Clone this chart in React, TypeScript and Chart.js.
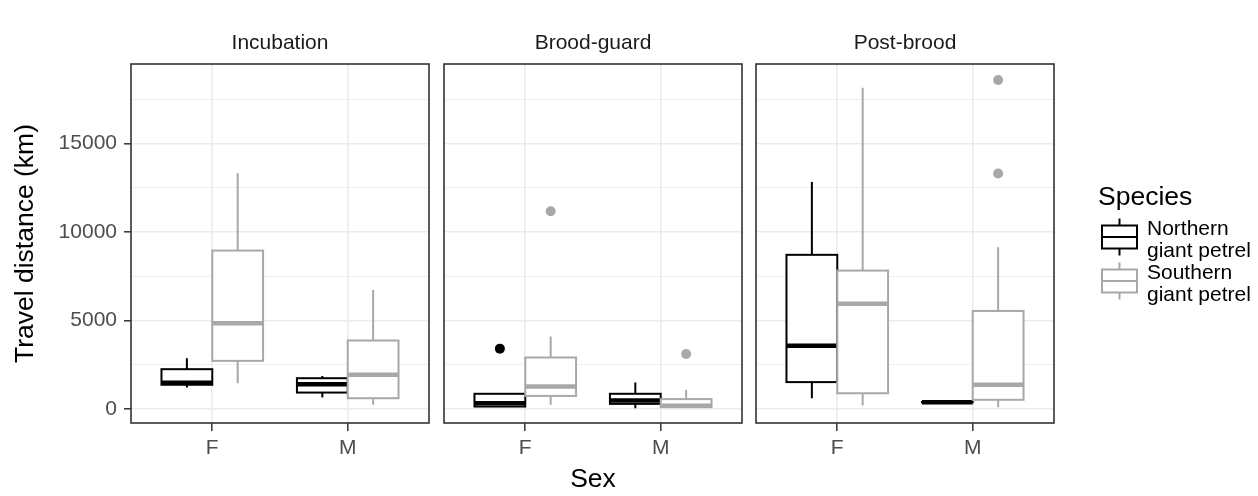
import React, { useEffect, useRef } from 'react';
import { Chart, registerables } from 'chart.js';

Chart.register(...registerables);

const FONT = '"Liberation Sans", Arial, Helvetica, sans-serif';

// ---------- data ----------
const phases = ['Incubation', 'Brood-guard', 'Post-brood'];
const sexes = ['F', 'M'];
const sexPositions = [1, 2];
const speciesLabels = [['Northern', 'giant petrel'], ['Southern', 'giant petrel']];
const speciesColors = ['#000000', '#A8A8A8'];
const yMajorTicks = [0, 5000, 10000, 15000];
const yMinorTicks = [2500, 7500, 12500, 17500];

// [lower whisker, Q1, median, Q3, upper whisker] for F, then M
const northernIncubation = [[1200, 1360, 1480, 2240, 2860], [640, 920, 1390, 1730, 1860]];
const southernIncubation = [[1450, 2710, 4840, 8940, 13310], [230, 600, 1920, 3860, 6720]];
const northernBroodGuard = [[130, 130, 320, 850, 850], [40, 280, 470, 850, 1490]];
const southernBroodGuard = [[230, 730, 1260, 2900, 4080], [90, 100, 180, 550, 1070]];
const northernPostBrood = [[600, 1510, 3560, 8700, 12820], [372, 374, 377, 380, 382]];
const southernPostBrood = [[190, 880, 5930, 7810, 18140], [90, 510, 1360, 5530, 9130]];

// outliers for F, then M
const northernIncubationOutliers = [[], []];
const southernIncubationOutliers = [[], []];
const northernBroodGuardOutliers = [[3400], []];
const southernBroodGuardOutliers = [[11160], [3100]];
const northernPostBroodOutliers = [[], []];
const southernPostBroodOutliers = [[], [13290, 18580]];

const northernStats = [northernIncubation, northernBroodGuard, northernPostBrood];
const southernStats = [southernIncubation, southernBroodGuard, southernPostBrood];
const northernOutliers = [northernIncubationOutliers, northernBroodGuardOutliers, northernPostBroodOutliers];
const southernOutliers = [southernIncubationOutliers, southernBroodGuardOutliers, southernPostBroodOutliers];

// ---------- layout ----------
const Y_MIN = -800;
const Y_MAX = 19480;
const X_MIN = 0.4;
const X_MAX = 2.6;
const DODGE = 0.1875;
const BOX_W = 0.375;

const W = 1258;
const H = 496;
const PANEL_TOP = 64;
const PANEL_BOTTOM = 423;
const panels = [
  { left: 0, width: 436, areaLeft: 131, areaRight: 429 },
  { left: 436, width: 313, areaLeft: 444, areaRight: 742 },
  { left: 749, width: 509, areaLeft: 756, areaRight: 1054 },
];

function stripPlugin(title: string) {
  return {
    id: 'strip',
    afterDraw(chart: any) {
      const { ctx, chartArea } = chart;
      ctx.save();
      ctx.font = `21px ${FONT}`;
      ctx.fillStyle = '#1A1A1A';
      ctx.textAlign = 'center';
      ctx.textBaseline = 'middle';
      ctx.fillText(title, (chartArea.left + chartArea.right) / 2, 43);
      ctx.restore();
    },
  };
}

function boxPlugin(groups: { stats: number[][]; color: string; offset: number }[]) {
  return {
    id: 'boxes',
    afterDatasetsDraw(chart: any) {
      const { ctx } = chart;
      const x = chart.scales.x;
      const y = chart.scales.y;
      const half = (x.getPixelForValue(BOX_W) - x.getPixelForValue(0)) / 2;
      groups.forEach((g) => {
        g.stats.forEach((st, k) => {
          const cx = x.getPixelForValue(sexPositions[k] + g.offset);
          const [lo, q1, med, q3, hi] = st.map((v) => y.getPixelForValue(v));
          ctx.save();
          ctx.strokeStyle = g.color;
          ctx.lineWidth = 2;
          ctx.beginPath();
          ctx.moveTo(cx, q3);
          ctx.lineTo(cx, hi);
          ctx.moveTo(cx, q1);
          ctx.lineTo(cx, lo);
          ctx.stroke();
          ctx.fillStyle = '#FFFFFF';
          ctx.fillRect(cx - half, q3, 2 * half, q1 - q3);
          ctx.strokeRect(cx - half, q3, 2 * half, q1 - q3);
          ctx.lineWidth = 4.5;
          ctx.beginPath();
          ctx.moveTo(cx - half, med);
          ctx.lineTo(cx + half, med);
          ctx.stroke();
          ctx.restore();
        });
      });
    },
  };
}

const borderPlugin = {
  id: 'panelBorder',
  afterDraw(chart: any) {
    const { ctx, chartArea } = chart;
    ctx.save();
    ctx.strokeStyle = '#333333';
    ctx.lineWidth = 1.6;
    ctx.strokeRect(chartArea.left, chartArea.top, chartArea.right - chartArea.left, chartArea.bottom - chartArea.top);
    ctx.restore();
  },
};

function legendPlugin(originX: number) {
  return {
    id: 'speciesLegend',
    afterDraw(chart: any) {
      const { ctx } = chart;
      ctx.save();
      ctx.fillStyle = '#000000';
      ctx.textAlign = 'left';
      ctx.textBaseline = 'alphabetic';
      ctx.font = `26.5px ${FONT}`;
      ctx.fillText('Species', 1098 - originX, 205);
      speciesLabels.forEach((lines, s) => {
        const mid = 237 + 44 * s;
        const cx = 1119.5 - originX;
        const hw = 17.5;
        ctx.strokeStyle = speciesColors[s];
        ctx.lineWidth = 2;
        ctx.beginPath();
        ctx.moveTo(cx, mid - 18.5);
        ctx.lineTo(cx, mid + 18.5);
        ctx.stroke();
        ctx.fillStyle = '#FFFFFF';
        ctx.fillRect(cx - hw, mid - 11.5, 2 * hw, 23);
        ctx.strokeRect(cx - hw, mid - 11.5, 2 * hw, 23);
        ctx.beginPath();
        ctx.moveTo(cx - hw, mid);
        ctx.lineTo(cx + hw, mid);
        ctx.stroke();
        ctx.fillStyle = '#000000';
        ctx.font = `21px ${FONT}`;
        ctx.fillText(lines[0], 1147 - originX, mid - 2);
        ctx.fillText(lines[1], 1147 - originX, mid + 20);
      });
      ctx.restore();
    },
  };
}

function makeConfig(i: number): any {
  const p = panels[i];
  const first = i === 0;
  const middle = i === 1;
  const last = i === 2;
  const outlierSets = [northernOutliers[i], southernOutliers[i]];
  const datasets = outlierSets.map((set, s) => ({
    label: speciesLabels[s].join(' '),
    data: set.flatMap((vals: number[], k: number) =>
      vals.map((v) => ({ x: sexPositions[k] + (s === 0 ? -DODGE : DODGE), y: v }))
    ),
    pointRadius: 5,
    pointHoverRadius: 5,
    pointBackgroundColor: speciesColors[s],
    pointBorderColor: speciesColors[s],
    pointBorderWidth: 0,
    showLine: false,
  }));
  const allYTicks = [...yMajorTicks, ...yMinorTicks].sort((a, b) => a - b);
  const isMajor = (c: any) => c && c.tick && yMajorTicks.includes(c.tick.value);

  const plugins: any[] = [
    stripPlugin(phases[i]),
    boxPlugin([
      { stats: northernStats[i], color: speciesColors[0], offset: -DODGE },
      { stats: southernStats[i], color: speciesColors[1], offset: DODGE },
    ]),
    borderPlugin,
  ];
  if (last) plugins.push(legendPlugin(p.left));

  return {
    type: 'scatter',
    data: { datasets },
    options: {
      responsive: false,
      animation: false,
      devicePixelRatio: 1,
      events: [],
      layout: {
        padding: {
          left: first ? 0 : p.areaLeft - p.left,
          right: p.left + p.width - p.areaRight,
          top: PANEL_TOP,
          bottom: 0,
        },
      },
      plugins: { legend: { display: false }, tooltip: { enabled: false } },
      scales: {
        x: {
          type: 'linear',
          min: X_MIN,
          max: X_MAX,
          afterBuildTicks: (s: any) => {
            s.ticks = sexPositions.map((v) => ({ value: v }));
          },
          afterFit: (s: any) => {
            s.height = H - PANEL_BOTTOM;
          },
          ticks: {
            font: { family: FONT, size: 21 },
            color: '#4D4D4D',
            padding: 5,
            maxRotation: 0,
            callback: (v: number) => {
              const k = sexPositions.indexOf(v);
              return k >= 0 ? sexes[k] : '';
            },
          },
          grid: {
            color: '#EBEBEB',
            lineWidth: 1.6,
            tickLength: 8,
            tickColor: '#333333',
            tickWidth: 1.5,
          },
          border: { display: false },
          title: middle
            ? {
                display: true,
                text: 'Sex',
                font: { family: FONT, size: 26.5 },
                color: '#000000',
                padding: { top: 0, bottom: 0 },
              }
            : { display: false },
        },
        y: {
          type: 'linear',
          min: Y_MIN,
          max: Y_MAX,
          afterBuildTicks: (s: any) => {
            s.ticks = allYTicks.map((v) => ({ value: v }));
          },
          afterFit: (s: any) => {
            s.width = first ? p.areaLeft - p.left : 0;
          },
          ticks: {
            display: first,
            font: { family: FONT, size: 21 },
            color: '#4D4D4D',
            padding: 7,
            callback: (v: number) => (yMajorTicks.includes(v) ? String(v) : ''),
          },
          grid: {
            color: '#EBEBEB',
            lineWidth: (c: any) => (isMajor(c) ? 1.6 : 0.8),
            drawTicks: first,
            tickLength: 7,
            tickColor: (c: any) => (isMajor(c) ? '#333333' : 'rgba(0,0,0,0)'),
            tickWidth: 1.5,
          },
          border: { display: false },
          title: first
            ? {
                display: true,
                text: 'Travel distance (km)',
                font: { family: FONT, size: 26.5 },
                color: '#000000',
                padding: { top: 10, bottom: 0 },
              }
            : { display: false },
        },
      },
    },
    plugins,
  };
}

export default function App() {
  const r0 = useRef<HTMLCanvasElement | null>(null);
  const r1 = useRef<HTMLCanvasElement | null>(null);
  const r2 = useRef<HTMLCanvasElement | null>(null);
  const refs = [r0, r1, r2];

  useEffect(() => {
    const charts = refs.map((r, i) => new Chart(r.current as HTMLCanvasElement, makeConfig(i)));
    return () => charts.forEach((c) => c.destroy());
  }, []);

  return (
    <div style={{ position: 'fixed', left: 0, top: 0, width: W, height: H, background: '#FFFFFF' }}>
      {panels.map((p, i) => (
        <canvas
          key={i}
          ref={refs[i]}
          width={p.width}
          height={H}
          style={{ position: 'absolute', left: p.left, top: 0, width: p.width, height: H, display: 'block' }}
        />
      ))}
    </div>
  );
}
